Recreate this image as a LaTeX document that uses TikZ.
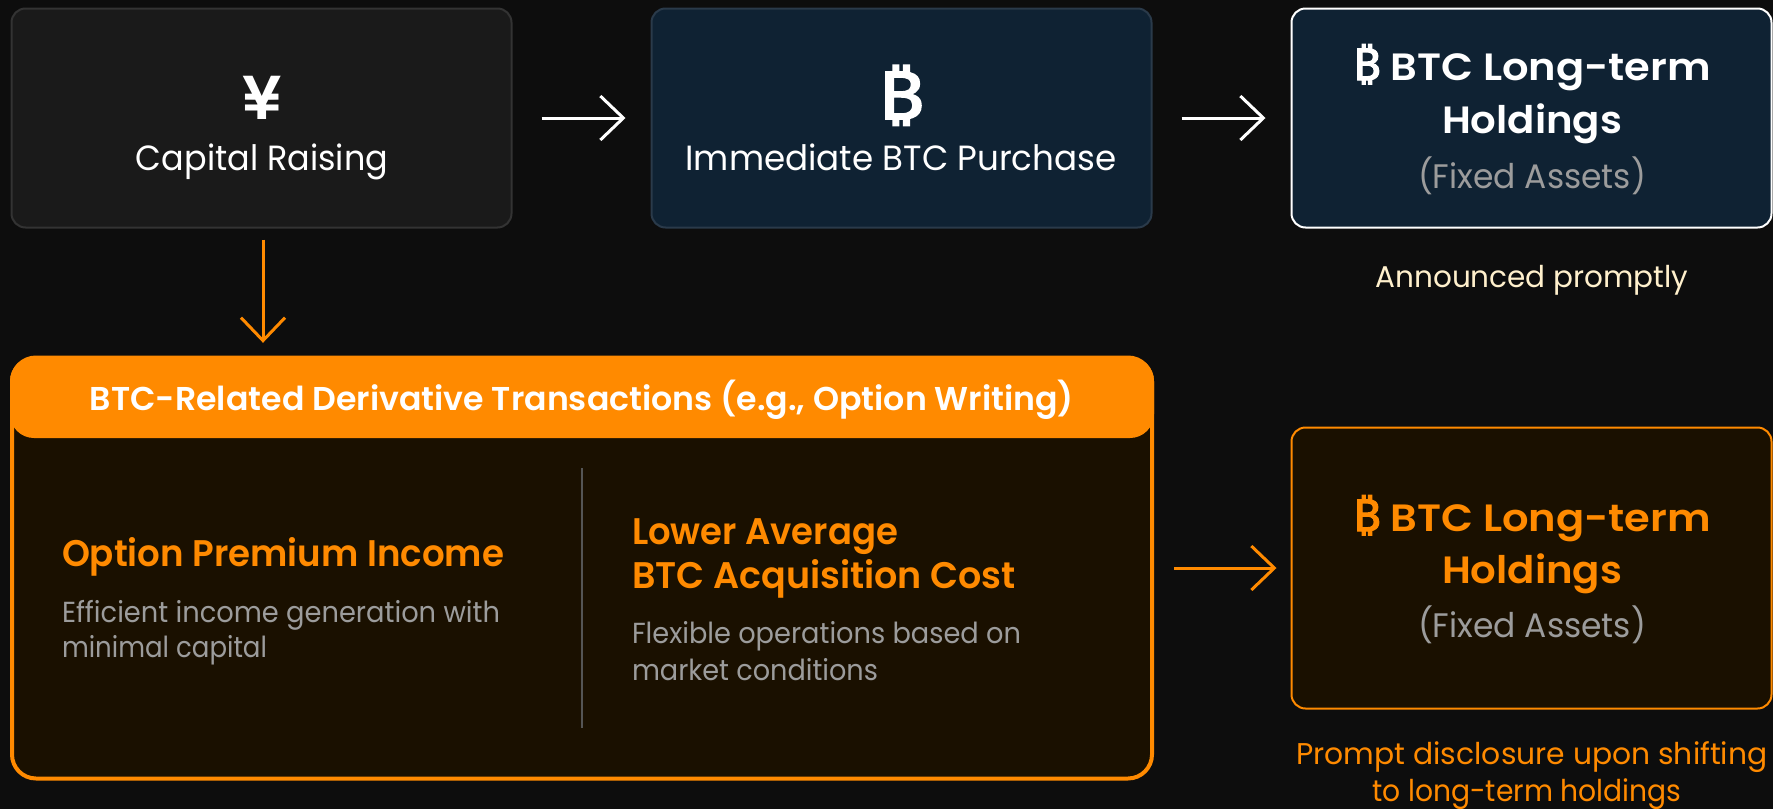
\documentclass[tikz,border=0pt]{standalone}
\usepackage{fontspec}
\usepackage{graphicx}
\usetikzlibrary{arrows.meta}
\setmainfont{Poppins}
\newfontfamily\plight{Poppins}
\newfontfamily\pmed{Poppins}[UprightFont=* SemiBold]
\newfontfamily\psemi{Poppins}[UprightFont=* SemiBold]
\newfontfamily\symf{Noto Sans}[FakeBold=2.5]
\definecolor{bgc}{HTML}{0D0D0D}
\definecolor{boxgrey}{HTML}{1A1A1A}
\definecolor{edgegrey}{HTML}{333333}
\definecolor{navy}{HTML}{0F2233}
\definecolor{edgenavy}{HTML}{2A3A4A}
\definecolor{orangec}{HTML}{FF8A00}
\definecolor{brownc}{HTML}{1A1000}
\definecolor{mute}{HTML}{9C9C9C}
\definecolor{cream}{HTML}{FFF0CC}
\definecolor{divc}{HTML}{555555}
\newcommand\fs[1]{\fontsize{#1pt}{#1pt}\selectfont}
\newcommand\fitw[2]{\resizebox{#1pt}{\height}{#2}}
\tikzset{
  panel/.style={rounded corners=14pt,line width=2pt,inner sep=0pt,minimum width=500pt,minimum height=219pt},
  txt/.style={inner sep=0pt,outer sep=0pt,anchor=base},
  txl/.style={inner sep=0pt,outer sep=0pt,anchor=base west},
  flow/.style={line width=3pt,-{Straight Barb[length=23pt,width=44pt,line width=3pt]}},
}
\begin{document}
\begin{tikzpicture}[x=1pt,y=-1pt]
\useasboundingbox (0,0) rectangle (1773,809);
\fill[bgc] (0,0) rectangle (1773,809);
% boxes
\node[panel,draw=edgegrey,fill=boxgrey] (cap) at (261.5,118) {};
\node[panel,draw=edgenavy,fill=navy] (imm) at (901.5,118) {};
\node[panel,draw=white,fill=navy,minimum width=480pt] (hold) at (1531.5,118) {};
\node[panel,draw=orangec,fill=brownc,line width=4pt,rounded corners=24pt,minimum width=1140pt,minimum height=421pt] (big) at (582,568) {};
\node[fill=orangec,rounded corners=24pt,inner sep=0pt,minimum width=1144pt,minimum height=81pt] (hdr) at (582,397.5) {};
\node[panel,draw=orangec,fill=brownc,minimum width=480pt,minimum height=281pt] (hold2) at (1531.5,568) {};
% divider
\coordinate (dtop) at (582,468);
\coordinate (dbot) at (582,728);
\draw[divc,line width=2pt] (dtop) -- (dbot);
% connectors
\draw[flow,white,shorten <=29pt,shorten >=25pt] (cap.east) -- (imm.west);
\draw[flow,white,shorten <=29pt,shorten >=25pt] (imm.east) -- (hold.west);
\draw[flow,orangec,shorten <=11pt,shorten >=14pt,transform canvas={xshift=1.5pt}] (cap.south) -- (cap.south |- hdr.north);
\draw[flow,orangec,shorten <=20pt,shorten >=14pt] (big.east) -- (hold2.west);
% texts
\node[txt,white] (yen) at (262,119) {\fs{62}\psemi ¥};
\node[txt,white] (t1) at (262,170) {\fs{35}\plight\fitw{252}{Capital Raising}};
\node[txt,white] (btc) at (901,119) {\fs{66}\symf\scalebox{1.2}[1]{₿}};
\node[txt,white] (t2) at (901,170) {\fs{35}\plight\fitw{431}{Immediate BTC Purchase}};
\node[txt,white] (t3) at (1532,80) {\fs{38}\pmed\fitw{358}{{\fs{44}\symf ₿} BTC Long-term}};
\node[txt,white] (t4) at (1532,133) {\fs{38}\pmed\fitw{180}{Holdings}};
\node[txt,mute] (t5) at (1532,188) {\fs{34}\plight\fitw{228}{(Fixed Assets)}};
\node[txt,cream] (t6) at (1532,287) {\fs{30}\plight\fitw{313}{Announced promptly}};
\node[txt,white] (t7) at (582,410) {\fs{33}\pmed\fitw{984}{BTC-Related Derivative Transactions (e.g., Option Writing)}};
\node[txl,orangec] (t8) at (62,566) {\fs{37}\pmed\fitw{442}{Option Premium Income}};
\node[txl,mute] (t9) at (62,622) {\fs{29}\plight\fitw{438}{Efficient income generation with}};
\node[txl,mute] (t10) at (62,657) {\fs{29}\plight\fitw{205}{minimal capital}};
\node[txl,orangec] (t11) at (632,544) {\fs{37}\pmed\fitw{266}{Lower Average}};
\node[txl,orangec] (t12) at (632,588) {\fs{37}\pmed\fitw{384}{BTC Acquisition Cost}};
\node[txl,mute] (t13) at (632,643) {\fs{29}\plight\fitw{389}{Flexible operations based on}};
\node[txl,mute] (t14) at (632,680) {\fs{29}\plight\fitw{246}{market conditions}};
\node[txt,orangec] (t15) at (1532,531) {\fs{38}\pmed\fitw{358}{{\fs{44}\symf ₿} BTC Long-term}};
\node[txt,orangec] (t16) at (1532,583) {\fs{38}\pmed\fitw{180}{Holdings}};
\node[txt,mute] (t17) at (1532,637) {\fs{34}\plight\fitw{228}{(Fixed Assets)}};
\node[txt,orangec] (t18) at (1532,764) {\fs{30}\plight\fitw{471}{Prompt disclosure upon shifting}};
\node[txt,orangec] (t19) at (1527,801) {\fs{30}\plight\fitw{309}{to long-term holdings}};
\end{tikzpicture}
\end{document}
